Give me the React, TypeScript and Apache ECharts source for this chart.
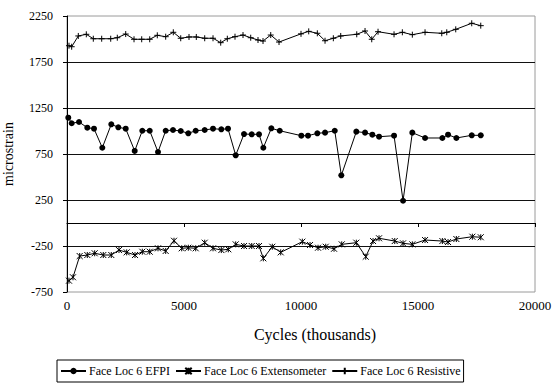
import React, { useEffect, useRef } from "react";
import * as echarts from "echarts";

const seriesNames = ["Face Loc 6 EFPI", "Face Loc 6 Extensometer", "Face Loc 6 Resistive"];

const efpi: [number, number][] = [
  [55, 1145], [200, 1084], [513, 1098], [868, 1036], [1154, 1025], [1509, 818], [1893, 1073], [2193, 1040],
  [2509, 1025], [2893, 783], [3218, 1003], [3535, 1003], [3889, 772], [4218, 1003], [4530, 1011], [4860, 1000],
  [5184, 975], [5500, 1003], [5885, 1011], [6240, 1025], [6595, 1018], [6881, 1025], [7210, 736], [7565, 967],
  [7894, 964], [8206, 964], [8390, 818], [8732, 1029], [9091, 1003], [10014, 949], [10300, 949], [10698, 975],
  [11027, 982], [11442, 1003], [11724, 518], [12365, 993], [12737, 982], [13049, 960], [13335, 938], [13976, 949],
  [14361, 242], [14758, 982], [15301, 924], [16041, 924], [16284, 960], [16639, 924], [17297, 953], [17682, 953],
];

const extensometer: [number, number][] = [
  [85, -627], [256, -590], [542, -359], [868, -348], [1183, -329], [1551, -348], [1893, -348], [2222, -294],
  [2551, -319], [2906, -348], [3218, -312], [3535, -312], [3889, -275], [4218, -304], [4573, -193], [4902, -275],
  [5184, -269], [5500, -275], [5885, -214], [6240, -275], [6595, -294], [6894, -286], [7210, -232], [7565, -250],
  [7894, -250], [8206, -250], [8390, -384], [8774, -258], [9133, -319], [10057, -203], [10386, -239], [10728, -269],
  [11057, -258], [11412, -280], [11741, -232], [12365, -214], [12767, -366], [13079, -196], [13335, -166], [14006, -196],
  [14361, -221], [14758, -232], [15301, -185], [16041, -196], [16284, -207], [16639, -174], [17323, -149], [17682, -155],
];

const resistive: [number, number][] = [
  [85, 1927], [200, 1916], [483, 2033], [825, 2051], [1124, 2003], [1483, 2003], [1868, 2003], [2150, 2014],
  [2509, 2054], [2864, 1997], [3193, 1997], [3535, 1997], [3859, 2040], [4218, 2025], [4543, 2073], [4860, 2008],
  [5214, 2022], [5526, 2022], [5885, 2008], [6240, 2008], [6569, 1960], [6851, 2003], [7180, 2025], [7522, 2043],
  [7851, 2014], [8163, 1989], [8377, 1978], [8706, 2043], [9061, 1967], [10000, 2056], [10330, 2083], [10698, 2062],
  [11027, 1981], [11382, 2008], [11698, 2033], [12382, 2051], [12737, 2087], [13023, 1997], [13292, 2079], [13976, 2051],
  [14331, 2073], [14758, 2047], [15301, 2073], [16015, 2062], [16229, 2073], [16613, 2105], [17297, 2171], [17682, 2145],
];

const xAxisMin = 0;
const xAxisMax = 20000;
const xAxisInterval = 5000;
const yAxisMin = -750;
const yAxisMax = 2250;
const yAxisInterval = 500;

const FONT = "Liberation Serif";

const plusSymbol = "path://M0,5L10,5M5,0L5,10";
const starSymbol = "path://M0,0L10,10M10,0L0,10M5,0L5,10";

const plain = (v: number) => String(v);

export default function App() {
  const ref = useRef<HTMLDivElement>(null);
  useEffect(() => {
    if (!ref.current) return;
    const chart = echarts.init(ref.current, undefined, { renderer: "svg" });
    const lineBase = {
      type: "line" as const,
      showSymbol: true,
      showAllSymbol: true,
      lineStyle: { color: "#000", width: 1 },
      emphasis: { disabled: true },
    };
    chart.setOption({
      animation: false,
      backgroundColor: "#fff",
      textStyle: { fontFamily: FONT },
      grid: {
        left: 67,
        right: 23,
        top: 16,
        bottom: 92,
        show: true,
        borderColor: "#9a9a9a",
        borderWidth: 1,
        outerBoundsMode: "none",
      },
      legend: {
        left: 57,
        top: 360,
        orient: "horizontal",
        itemWidth: 25,
        itemHeight: 8,
        itemGap: 5,
        padding: [5, 3, 5, 3],
        borderColor: "#000",
        borderWidth: 1,
        textStyle: { fontFamily: FONT, fontSize: 12, color: "#000", padding: [0, 0, 0, -2] },
        data: seriesNames,
      },
      xAxis: [
        {
          type: "value",
          min: xAxisMin,
          max: xAxisMax,
          interval: xAxisInterval,
          position: "bottom",
          axisLine: { show: false, onZero: false },
          axisTick: { show: false },
          splitLine: { show: false },
          axisLabel: { fontFamily: FONT, fontSize: 13, color: "#000", margin: 7, formatter: plain },
          name: "Cycles (thousands)",
          nameLocation: "middle",
          nameGap: 34,
          nameTextStyle: { fontFamily: FONT, fontSize: 16, color: "#000", padding: [0, 0, 0, 28] },
        },
        {
          type: "value",
          min: xAxisMin,
          max: xAxisMax,
          interval: xAxisInterval,
          position: "bottom",
          axisLine: { show: true, onZero: true, lineStyle: { color: "#000", width: 1 } },
          axisTick: { show: true, inside: false, length: 4, lineStyle: { color: "#000" } },
          axisLabel: { show: false },
          splitLine: { show: false },
        },
      ],
      yAxis: {
        type: "value",
        min: yAxisMin,
        max: yAxisMax,
        interval: yAxisInterval,
        axisLine: { show: true, onZero: false, lineStyle: { color: "#000", width: 1 } },
        axisTick: { show: true, inside: false, length: 4, lineStyle: { color: "#000" } },
        axisLabel: { fontFamily: FONT, fontSize: 12, color: "#000", margin: 14, formatter: plain },
        splitLine: { show: true, showMinLine: false, showMaxLine: false, lineStyle: { color: "#111", width: 1 } },
        name: "microstrain",
        nameLocation: "middle",
        nameGap: 52,
        nameTextStyle: { fontFamily: FONT, fontSize: 14, color: "#000" },
      },
      series: [
        {
          ...lineBase,
          name: seriesNames[0],
          data: efpi,
          symbol: "circle",
          symbolSize: 6,
          itemStyle: { color: "#000" },
        },
        {
          ...lineBase,
          name: seriesNames[1],
          data: extensometer,
          symbol: starSymbol,
          symbolSize: 6,
          itemStyle: { color: "#000", borderColor: "#000", borderWidth: 1 },
        },
        {
          ...lineBase,
          name: seriesNames[2],
          data: resistive,
          symbol: plusSymbol,
          symbolSize: 6,
          itemStyle: { color: "#000", borderColor: "#000", borderWidth: 1 },
        },
      ],
    });
    return () => chart.dispose();
  }, []);
  return (
    <div
      ref={ref}
      style={{ position: "fixed", left: 0, top: 0, width: 558, height: 384, background: "#fff" }}
    />
  );
}
